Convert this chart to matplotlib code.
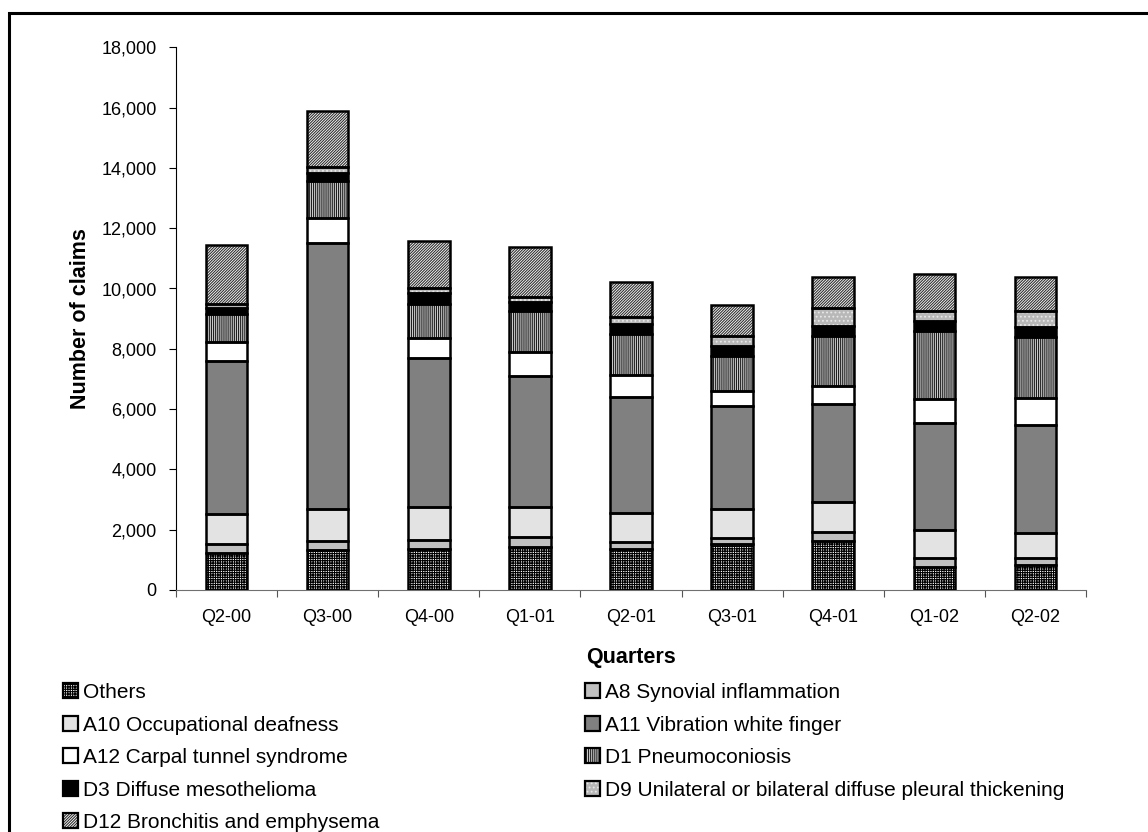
import matplotlib.pyplot as plt
import numpy as np
from matplotlib.patches import Patch, Rectangle
from matplotlib.ticker import FuncFormatter

plt.rcParams["font.family"] = ["Liberation Sans", "DejaVu Sans"]
plt.rcParams["hatch.linewidth"] = 0.8

quarters = ["Q2-00", "Q3-00", "Q4-00", "Q1-01", "Q2-01", "Q3-01", "Q4-01", "Q1-02", "Q2-02"]

others = [1217, 1327, 1360, 1416, 1350, 1514, 1636, 773, 829]
a8 = [309, 308, 298, 332, 252, 222, 277, 298, 242]
a10 = [995, 1052, 1105, 1015, 962, 940, 995, 919, 830]
a11 = [5084, 8813, 4922, 4335, 3827, 3427, 3261, 3559, 3572]
a12 = [630, 848, 663, 806, 740, 508, 608, 776, 885]
d1 = [909, 1228, 1138, 1360, 1360, 1150, 1658, 2275, 2044]
d3 = [199, 244, 375, 299, 322, 342, 332, 332, 331]
d9 = [133, 200, 145, 166, 232, 332, 575, 332, 531]
d12 = [1967, 1870, 1580, 1658, 1181, 1018, 1050, 1217, 1128]

# name, values, fill, hatch, hatch colour
series = [
    ("Others", others, "white", "+++++++", "black"),
    ("A8 Synovial inflammation", a8, "#c0c0c0", None, None),
    ("A10 Occupational deafness", a10, "#e3e3e3", None, None),
    ("A11 Vibration white finger", a11, "#808080", None, None),
    ("A12 Carpal tunnel syndrome", a12, "white", None, None),
    ("D1 Pneumoconiosis", d1, "#d0d0d0", "||||||||", "#202020"),
    ("D3 Diffuse mesothelioma", d3, "black", None, None),
    ("D9 Unilateral or bilateral diffuse pleural thickening", d9, "#b8b8b8", "....", "#e8e8e8"),
    ("D12 Bronchitis and emphysema", d12, "white", "////////////", "#303030"),
]

fig = plt.figure(figsize=(11.48, 8.32), dpi=100)
fig.patches.append(Rectangle((9 / 1148, -0.05), 1.2, 1 - 13 / 832 + 0.05,
                             transform=fig.transFigure, fill=False,
                             edgecolor="black", linewidth=2.2))
ax = fig.add_axes([176 / 1148, 1 - 590 / 832, (1086 - 176) / 1148, (590 - 47.3) / 832])

x = np.arange(len(quarters))
bottom = np.zeros(len(quarters))
handles = {}
for name, vals, color, hatch, hcolor in series:
    if hatch:
        ax.bar(x, vals, 0.41, bottom=bottom, color=color, edgecolor=hcolor,
               linewidth=0, hatch=hatch, zorder=3)
    else:
        ax.bar(x, vals, 0.41, bottom=bottom, color=color, linewidth=0, zorder=3)
    ax.bar(x, vals, 0.41, bottom=bottom, fill=False, edgecolor="black",
           linewidth=1.8, zorder=4)
    bottom += np.array(vals)
    fillp = Patch(facecolor=color, edgecolor=hcolor if hatch else color,
                  linewidth=0, hatch=hatch)
    edgep = Patch(fill=False, edgecolor="black", linewidth=1.6)
    handles[name] = (fillp, edgep)

ax.set_xlim(-0.5, len(quarters) - 0.5)
ax.set_ylim(0, 18000)
ax.set_yticks(np.arange(0, 18001, 2000))
ax.yaxis.set_major_formatter(FuncFormatter(lambda v, p: f"{int(v):,}"))
ax.set_xticks(np.arange(-0.5, len(quarters), 1.0))
ax.set_xticklabels([])
ax.set_xticks(x, minor=True)
ax.set_xticklabels(quarters, minor=True)
ax.tick_params(axis="x", which="major", length=5, color="#555555")
ax.tick_params(axis="x", which="minor", length=0, pad=14, labelsize=13)
ax.tick_params(axis="y", length=5, labelsize=13, pad=9)
for s in ["top", "right"]:
    ax.spines[s].set_visible(False)
ax.spines["left"].set_color("black")
ax.spines["bottom"].set_color("#707070")
ax.set_ylabel("Number of claims", fontsize=15.5, fontweight="bold", labelpad=7)
fig.text(631 / 1148, 1 - 657 / 832, "Quarters", fontsize=15.5, fontweight="bold",
         ha="center", va="center")

left_col = ["Others", "A10 Occupational deafness", "A12 Carpal tunnel syndrome",
            "D3 Diffuse mesothelioma", "D12 Bronchitis and emphysema"]
right_col = ["A8 Synovial inflammation", "A11 Vibration white finger", "D1 Pneumoconiosis",
             "D9 Unilateral or bilateral diffuse pleural thickening"]
for col, xpos in [(left_col, 63), (right_col, 585)]:
    fig.legend([handles[n] for n in col], col, loc="upper left",
               bbox_to_anchor=(xpos / 1148, 1 - 683 / 832), frameon=False,
               fontsize=15, handlelength=0.72, handleheight=0.72,
               handletextpad=0.25, labelspacing=0.65, borderaxespad=0,
               borderpad=0)

fig.savefig("out.png", dpi=100)
